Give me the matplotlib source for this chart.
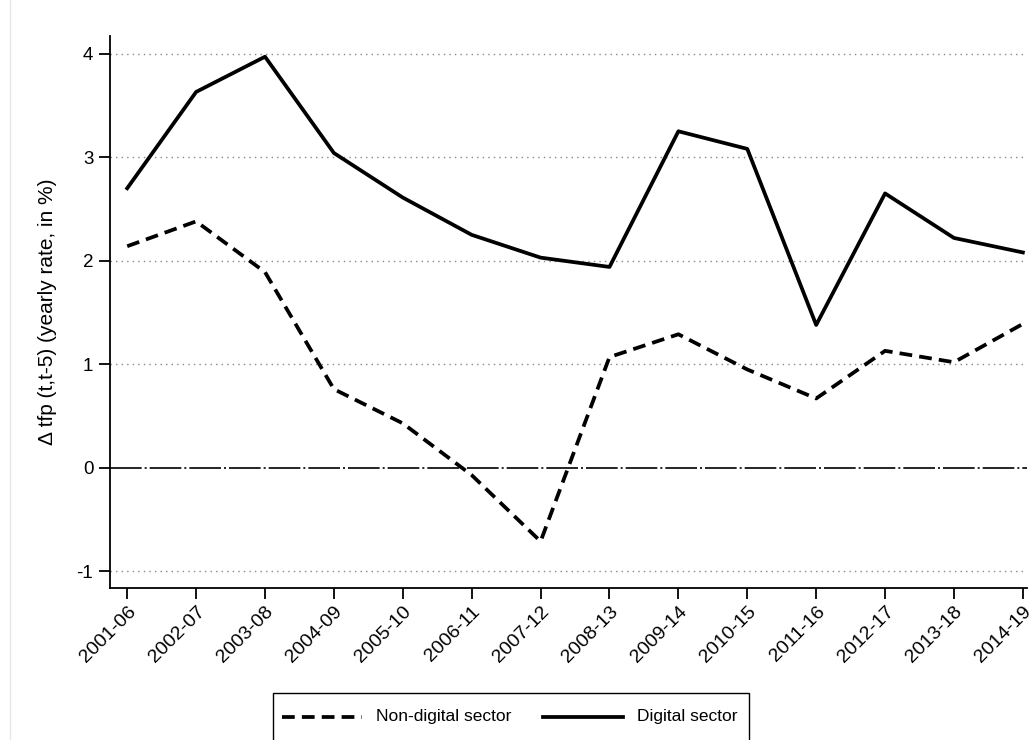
import matplotlib
matplotlib.use("Agg")
import matplotlib.pyplot as plt
from matplotlib.lines import Line2D
from matplotlib.patches import Rectangle
import numpy as np

plt.rcParams['font.family'] = ['Liberation Sans', 'DejaVu Sans']

# periods on the x axis
periods = ["2001-06", "2002-07", "2003-08", "2004-09", "2005-10", "2006-11", "2007-12",
           "2008-13", "2009-14", "2010-15", "2011-16", "2012-17", "2013-18", "2014-19"]

# tfp growth, yearly rate in %
non_digital = [2.14, 2.38, 1.89, 0.76, 0.43, -0.07, -0.71, 1.07, 1.29, 0.95, 0.67, 1.13, 1.02, 1.39]
digital = [2.70, 3.63, 3.97, 3.04, 2.61, 2.25, 2.03, 1.94, 3.25, 3.08, 1.38, 2.65, 2.22, 2.08]

yticks = [-1, 0, 1, 2, 3, 4]

W, H = 1030, 740
fig = plt.figure(figsize=(W / 100, H / 100), dpi=100)
ax = fig.add_axes([110 / W, 1 - 588 / H, (1027 - 110) / W, (588 - 36) / H])

x = np.arange(len(periods))

DASH = (0, (3.4, 1.9))
LW = 2.7

# grid
for yv in yticks:
    if yv == 0:
        continue
    ax.axhline(yv, color='#7f8c8d', linestyle=(0, (1, 3)), linewidth=1.0, zorder=1)
ax.axhline(0, color='black', linestyle=(0, (19, 1.8, 1.2, 1.8)), linewidth=1.2, zorder=2)

ax.plot(x, non_digital, color='black', linestyle=DASH, linewidth=LW, zorder=3)
ax.plot(x, digital, color='black', linestyle='-', linewidth=LW, zorder=3)

ax.set_xlim(-0.25, 13.06)
ax.set_ylim(-1.16, 4.17)
ax.set_yticks(yticks)
ax.set_yticklabels([str(v) for v in yticks], fontsize=13.5)
ax.set_xticks(x)
ax.set_xticklabels(periods, rotation=45, ha='right', rotation_mode='anchor', fontsize=14)
ax.tick_params(axis='both', direction='out', length=8, width=1.3, colors='black')
ax.tick_params(axis='x', pad=3)
ax.tick_params(axis='y', pad=4)

for side in ['top', 'right']:
    ax.spines[side].set_visible(False)
for side in ['left', 'bottom']:
    ax.spines[side].set_linewidth(1.3)

ax.set_ylabel("\u0394 tfp (t,t-5) (yearly rate, in %)", fontsize=15, labelpad=14)

# legend box at the bottom (drawn by hand, Stata style)
tf = fig.transFigure
fig.add_artist(Rectangle((273 / W, 1 - 741 / H), 476 / W, 48 / H, transform=tf,
                         fill=False, edgecolor='black', linewidth=1.0))
ly = 1 - 717 / H
fig.add_artist(Line2D([282 / W, 362 / W], [ly, ly], transform=tf, color='black',
                      linestyle=DASH, linewidth=LW))
fig.text(376 / W, ly, "Non-digital sector", fontsize=12.5, va='center', ha='left')
fig.add_artist(Line2D([543 / W, 623 / W], [ly, ly], transform=tf, color='black',
                      linestyle='-', linewidth=LW))
fig.text(637 / W, ly, "Digital sector", fontsize=12.5, va='center', ha='left')

# faint border on the left
fig.add_artist(Line2D([10 / W, 10 / W], [0, 1], color='#e6e6e6', linewidth=1.0))

fig.savefig("out.png", dpi=100)
